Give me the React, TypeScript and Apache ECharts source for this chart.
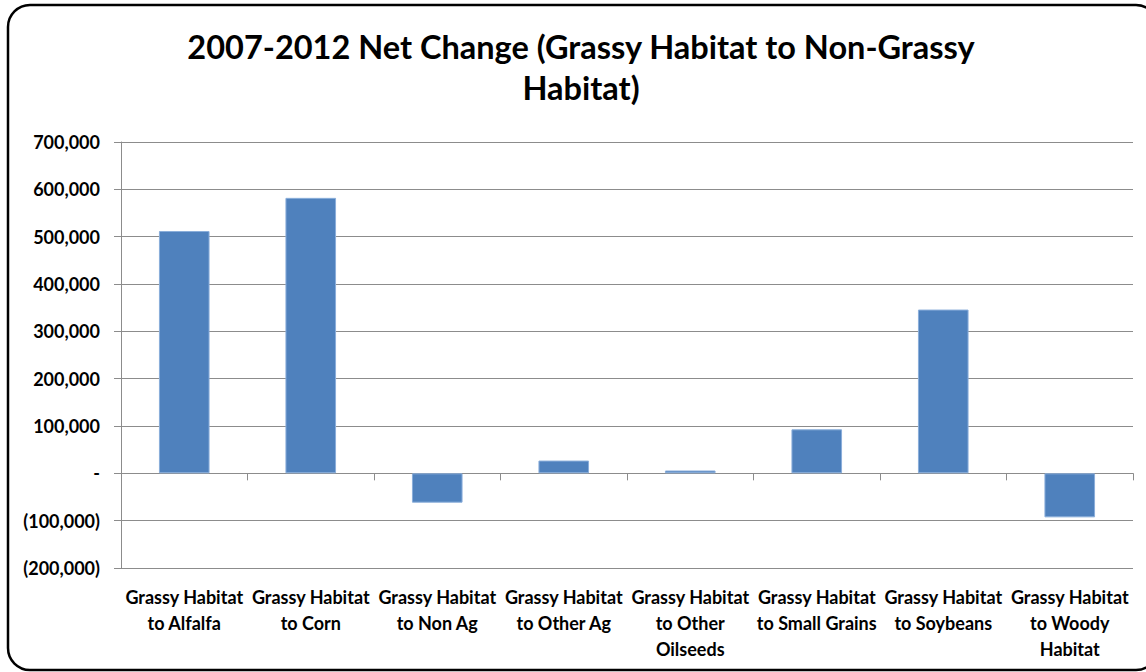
import React, { useEffect, useRef } from "react";
import * as echarts from "echarts";

const categories = [
  "Grassy Habitat\nto Alfalfa",
  "Grassy Habitat\nto Corn",
  "Grassy Habitat\nto Non Ag",
  "Grassy Habitat\nto Other Ag",
  "Grassy Habitat\nto Other\nOilseeds",
  "Grassy Habitat\nto Small Grains",
  "Grassy Habitat\nto Soybeans",
  "Grassy Habitat\nto Woody\nHabitat",
];
const netChange = [512000, 582000, -62000, 27000, 6000, 93000, 346000, -93000];
const yTicks = { min: -200000, max: 700000, interval: 100000 };
const titleText = "2007-2012 Net Change (Grassy Habitat to Non-Grassy\nHabitat)";

const FONT = "Lato, 'Open Sans', sans-serif";

function fmt(v: number): string {
  if (v === 0) return "-";
  const s = Math.abs(v).toLocaleString("en-US");
  return v < 0 ? `(${s})` : s;
}

export default function App() {
  const ref = useRef<HTMLDivElement>(null);
  useEffect(() => {
    if (!ref.current) return;
    const chart = echarts.init(ref.current, null, { renderer: "svg" });
    chart.setOption({
      animation: false,
      backgroundColor: "#fff",
      grid: { left: 121, right: 13, top: 142, bottom: 104, containLabel: false },
      graphic: [
        {
          type: "rect",
          shape: { x: 8, y: 5, width: 1150, height: 665, r: 22 },
          style: { fill: "none", stroke: "#000", lineWidth: 2.5 },
          z: 100,
        },
        {
          type: "text",
          x: 581,
          y: 26,
          style: {
            text: titleText,
            textAlign: "center",
            textVerticalAlign: "top",
            font: `bold 32.5px ${FONT}`,
            lineHeight: 41,
            fill: "#000",
          },
        },
      ],
      xAxis: [
        {
          type: "category",
          data: categories,
          position: "bottom",
          axisLine: { onZero: true, lineStyle: { color: "#8c8c8c", width: 1 } },
          axisTick: { show: true, length: 7, lineStyle: { color: "#8c8c8c" } },
          axisLabel: { show: false },
          splitLine: { show: false },
        },
        {
          type: "category",
          data: categories,
          position: "bottom",
          axisLine: { show: false, onZero: false },
          axisTick: { show: false },
          axisLabel: {
            show: true,
            interval: 0,
            margin: 16,
            fontFamily: FONT,
            fontWeight: "bold",
            fontSize: 18,
            lineHeight: 26,
            color: "#000",
          },
        },
      ],
      yAxis: {
        type: "value",
        min: yTicks.min,
        max: yTicks.max,
        interval: yTicks.interval,
        axisLine: { show: true, lineStyle: { color: "#8c8c8c" } },
        axisTick: { show: true, length: 7, lineStyle: { color: "#8c8c8c" } },
        axisLabel: {
          formatter: (v: number) => fmt(v),
          margin: 21,
          fontFamily: FONT,
          fontWeight: "bold",
          fontSize: 18,
          color: "#000",
        },
        splitLine: { show: true, lineStyle: { color: "#8c8c8c", width: 1 } },
      },
      series: [
        {
          type: "bar",
          xAxisIndex: 0,
          data: netChange,
          barWidth: "40%",
          itemStyle: { color: "#4F81BD", borderColor: "#8AAEDA", borderWidth: 1 },
        },
      ],
    });
    return () => chart.dispose();
  }, []);
  return (
    <div
      ref={ref}
      style={{ position: "fixed", left: 0, top: 0, width: 1146, height: 672 }}
    />
  );
}
